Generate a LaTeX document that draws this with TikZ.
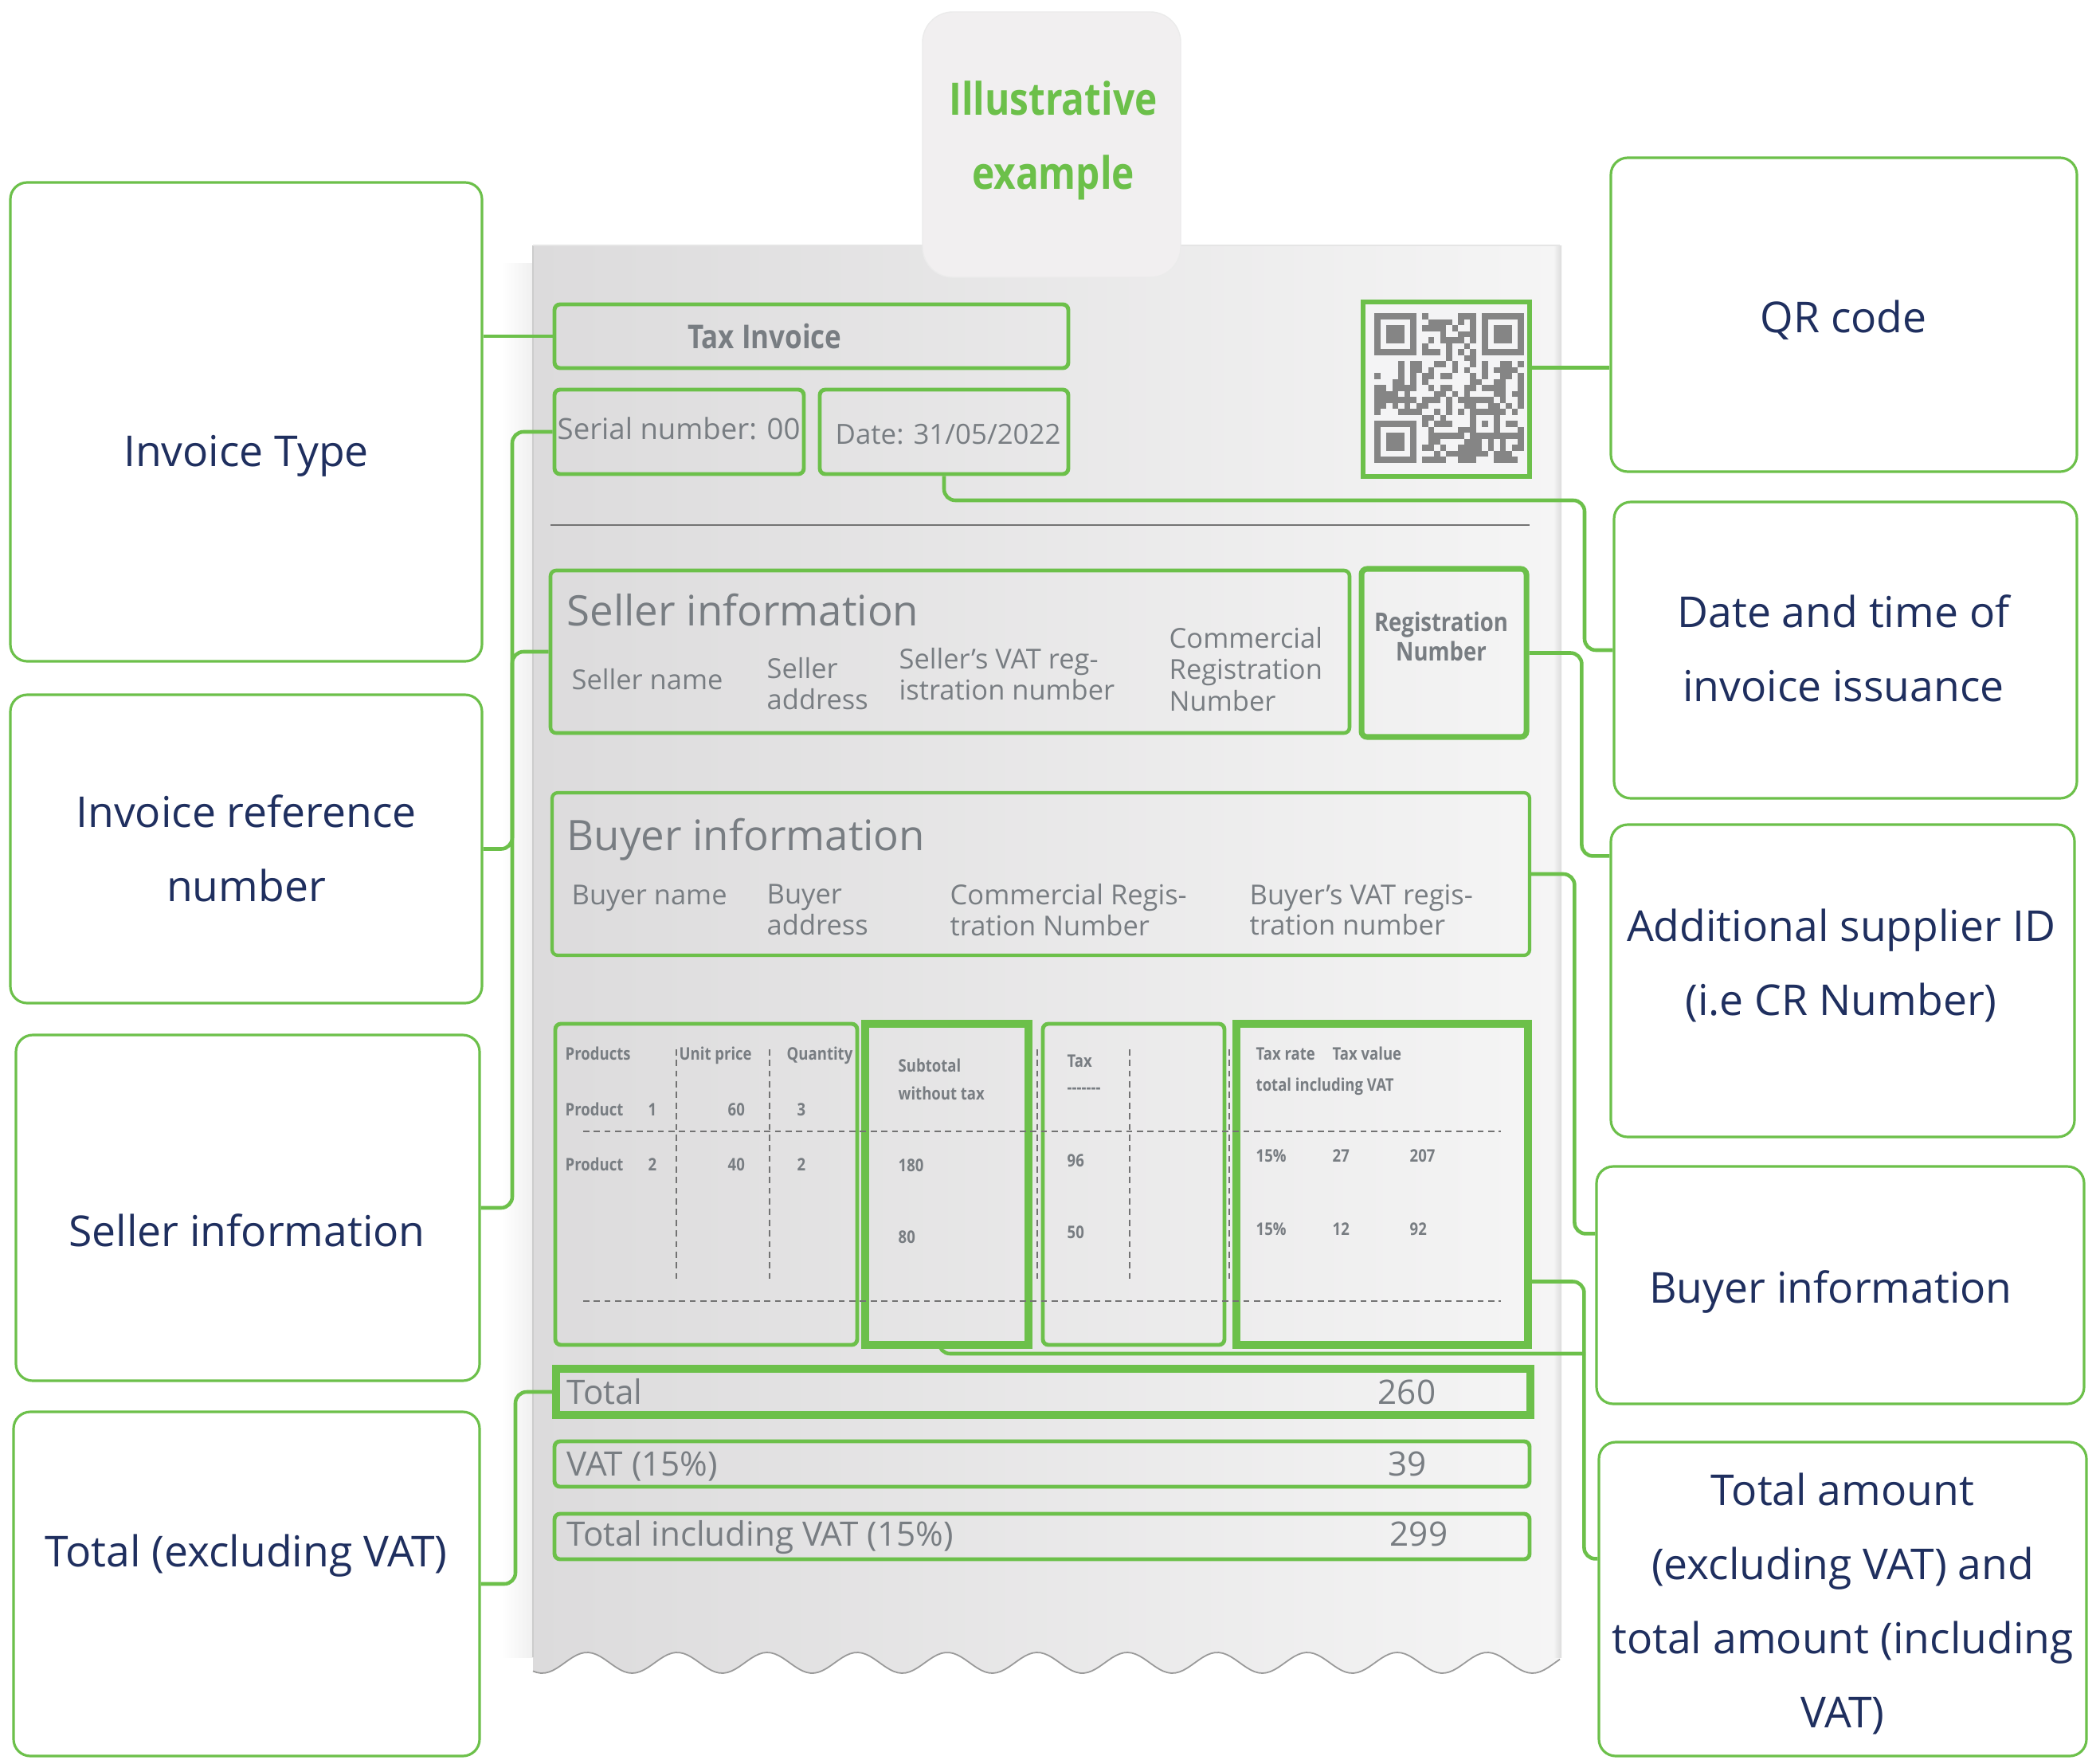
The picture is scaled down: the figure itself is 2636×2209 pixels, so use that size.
\documentclass[tikz,border=0pt]{standalone}
\usepackage{fontspec}
\setmainfont{Open Sans}
\newfontfamily\labf{Open Sans}
\newfontfamily\rcf{Open Sans}
\newfontfamily\cdf[FakeStretch=0.85]{Open Sans}
\usetikzlibrary{fit,calc}
\definecolor{gr}{HTML}{6CC04A}
\definecolor{navy}{HTML}{1F2F5F}
\definecolor{txt}{HTML}{787D82}
\definecolor{tabc}{HTML}{F1EFF0}
\definecolor{qrc}{HTML}{858585}
\definecolor{qrbg}{HTML}{F4F4F5}
\definecolor{paperL}{HTML}{DCDBDC}
\definecolor{paperR}{HTML}{F5F5F5}
\tikzset{
  lbox/.style={draw=gr, line width=0.9pt, rounded corners=6pt, inner sep=0pt},
  ltext/.style={font={\labf\fontsize{15.2}{26.5}\selectfont}, text=navy, align=center, inner sep=0pt},
  conn/.style={draw=gr, line width=1.3pt, rounded corners=4pt},
  rbox/.style={draw=gr, line width=1.4pt, rounded corners=2pt, inner sep=0pt},
  rthick/.style={draw=gr, line width=2.6pt, inner sep=0pt},
  rt/.style={text=txt, inner sep=0pt, anchor=base west},
  hdr/.style={rt, font={\rcf\fontsize{15}{18}\selectfont}},
  fld/.style={text=txt, inner sep=0pt, anchor=west, align=left, font={\rcf\fontsize{9.8}{10.9}\selectfont}},
  tt/.style={rt, font={\cdf\bfseries\fontsize{6.2}{10}\selectfont}},
  tot/.style={rt, font={\rcf\fontsize{12}{14}\selectfont}},
  dsh/.style={draw=black!55, line width=0.4pt, dash pattern=on 2.2pt off 1.6pt},
}
\begin{document}
\begin{tikzpicture}[x=0.01cm, y=-0.01cm]
\useasboundingbox (0,0) rectangle (2636,2209);
\fill[white] (0,0) rectangle (2636,2209);

% ---------- receipt paper ----------
\shade[left color=white, right color=black!6] (630,330) rectangle (669,2080);
\shade[left color=paperL, right color=paperR]
  (669,308) -- (1958,308) -- (1958,2082)
  -- plot[domain=1958:669, samples=260] (\x, {2087-13*cos(3.1858*(\x-737))}) -- cycle;
\shade[left color=paperR, right color=black!14] (1950,308) rectangle (1960,2080);
\draw[black!40, line width=0.5pt] plot[domain=1958:669, samples=260] (\x, {2087-13*cos(3.1858*(\x-737))});
\draw[black!20, line width=0.8pt] (669,308) -- (669,2080);
\draw[black!10, line width=0.6pt] (669,308) -- (1958,308);

% ---------- illustrative tab ----------
\node[fit={(1158,15)(1482,348)}, inner sep=0pt, fill=tabc, draw=black!8, rounded corners=10.8pt] (tab) {};
\node[text=gr, align=center, inner sep=0pt, font={\cdf\bfseries\fontsize{16}{26.5}\selectfont}] (tabtext) at (1322,176) {Illustrative\\example};

% ---------- receipt header ----------
\node[rbox, fit={(696,382)(1341,462)}] (taxinv) {};
\node[rt, anchor=base, font={\cdf\bfseries\fontsize{11.7}{14}\selectfont}] (taxinvt) at (960,437) {Tax Invoice};
\node[rbox, fit={(696,489)(1009,595)}] (serial) {};
\node[rt, font={\rcf\fontsize{10.4}{12}\selectfont}] (serialt) at (699,551) {Serial number: 00};
\node[rbox, fit={(1029,489)(1341,595)}] (date) {};
\node[rt, font={\rcf\fontsize{9.9}{12}\selectfont}] (datet) at (1048,557) {Date: 31/05/2022};

% QR code
\node[draw=gr, line width=1.8pt, fill=qrbg, inner sep=0pt, fit={(1711,379)(1920,598)}] (qr) {};
\pgfmathsetseed{7}
\foreach \i in {0,...,24}{
  \foreach \j in {0,...,24}{
    \pgfmathtruncatemacro\fnd{((\i<8)&&(\j<8))||((\i>16)&&(\j<8))||((\i<8)&&(\j>16))}
    \pgfmathtruncatemacro\rr{rnd<0.52}
    \ifnum\fnd=0 \ifnum\rr=1 \fill[qrc] ({1725+7.5*\i},{393+7.5*\j}) rectangle ++(7.6,7.6); \fi\fi
  }}
\foreach \a/\b in {0/0, 18/0, 0/18}{
  \fill[qrc] ({1725+7.5*\a},{393+7.5*\b}) rectangle ++(52.5,52.5);
  \fill[qrbg] ({1732.5+7.5*\a},{400.5+7.5*\b}) rectangle ++(37.5,37.5);
  \fill[qrc] ({1740+7.5*\a},{408+7.5*\b}) rectangle ++(22.5,22.5);
}
\fill[qrc] (1845,513) rectangle ++(37.5,37.5);
\fill[qrbg] (1852.5,520.5) rectangle ++(22.5,22.5);
\fill[qrc] (1860,528) rectangle ++(7.5,7.5);

\draw[black!55, line width=0.5pt] (691,659) -- (1920,659);

% ---------- seller ----------
\node[rbox, line width=1.3pt, fit={(691,716)(1694,920)}] (seller) {};
\node[hdr] (sellerh) at (711,785) {Seller information};
\node[fld, anchor=base west] (sf1) at (717,865) {Seller name};
\node[fld] (sf2) at (962,858) {Seller\\address};
\node[fld] (sf3) at (1128,846) {Seller’s VAT reg-\\istration number};
\node[fld, font={\rcf\fontsize{9.8}{11.2}\selectfont}] (sf4) at (1467,840) {Commercial\\Registration\\Number};
\node[rbox, line width=2pt, fit={(1709,714)(1916,925)}] (reg) {};
\node[text=txt, inner sep=0pt, align=center, font={\cdf\bfseries\fontsize{9.2}{10.5}\selectfont}] (regt) at (1809,799) {Registration\\Number};

% ---------- buyer ----------
\node[rbox, line width=1.2pt, fit={(693,995)(1920,1199)}] (buyer) {};
\node[hdr] (buyerh) at (711,1067) {Buyer information};
\node[fld, anchor=base west] (bf1) at (717,1135) {Buyer name};
\node[fld] (bf2) at (962,1142) {Buyer\\address};
\node[fld] (bf3) at (1192,1142) {Commercial Regis-\\tration Number};
\node[fld] (bf4) at (1568,1142) {Buyer’s VAT regis-\\tration number};

% ---------- table ----------
\node[rbox, fit={(697,1285)(1076,1688)}] (tb1) {};
\node[rthick, fit={(1086,1285)(1291,1688)}] (tb2) {};
\node[rbox, fit={(1309,1285)(1537,1688)}] (tb3) {};
\node[rthick, fit={(1552,1285)(1918,1688)}] (tb4) {};
\draw[dsh] (732,1420) -- (1884,1420);
\draw[dsh] (732,1633) -- (1884,1633);
\foreach \xx in {849,966,1302,1418,1543}{\draw[dsh] (\xx,1317) -- (\xx,1610);}
\node[tt] (c1) at (709,1330) {Products};
\node[tt] (c2) at (852,1330) {Unit price};
\node[tt] (c3) at (987,1330) {Quantity};
\node[tt] (p1a) at (709,1400) {Product};
\node[tt] (p1b) at (813,1400) {1};
\node[tt] (p1c) at (913,1400) {60};
\node[tt] (p1d) at (1000,1400) {3};
\node[tt] (p2a) at (709,1469) {Product};
\node[tt] (p2b) at (813,1469) {2};
\node[tt] (p2c) at (913,1469) {40};
\node[tt] (p2d) at (1000,1469) {2};
\node[tt] (s1) at (1127,1345) {Subtotal};
\node[tt] (s2) at (1127,1380) {without tax};
\node[tt] (s3) at (1127,1470) {180};
\node[tt] (s4) at (1127,1560) {80};
\node[tt] (x1) at (1339,1339) {Tax};
\node[tt] (x2) at (1339,1372) {-------};
\node[tt] (x3) at (1339,1464) {96};
\node[tt] (x4) at (1339,1554) {50};
\node[tt] (r1) at (1576,1330) {Tax rate};
\node[tt] (r2) at (1672,1330) {Tax value};
\node[tt] (r3) at (1576,1369) {total including VAT};
\node[tt] (r4) at (1576,1458) {15\%};
\node[tt] (r5) at (1672,1458) {27};
\node[tt] (r6) at (1769,1458) {207};
\node[tt] (r7) at (1576,1550) {15\%};
\node[tt] (r8) at (1672,1550) {12};
\node[tt] (r9) at (1769,1550) {92};

% ---------- totals ----------
\node[rthick, fit={(698,1718)(1921,1776)}] (tot) {};
\node[tot] (tott) at (711,1762) {Total};
\node[tot] (totv) at (1729,1762) {260};
\node[rbox, fit={(696,1809)(1920,1866)}] (vat) {};
\node[tot] (vatt) at (711,1852) {VAT (15\%)};
\node[tot] (vatv) at (1742,1852) {39};
\node[rbox, fit={(696,1900)(1920,1957)}] (tinc) {};
\node[tot] (tinct) at (711,1940) {Total including VAT (15\%)};
\node[tot] (tincv) at (1744,1940) {299};

% ---------- label boxes ----------
\node[lbox, fit={(13,229)(605,830)}] (lt1) {};
\node[lbox, fit={(13,872)(605,1259)}] (lt2) {};
\node[lbox, fit={(20,1299)(602,1733)}] (lt3) {};
\node[lbox, fit={(17,1772)(602,2204)}] (lt4) {};
\node[lbox, fit={(2022,198)(2607,592)}] (rt1) {};
\node[lbox, fit={(2026,630)(2607,1002)}] (rt2) {};
\node[lbox, fit={(2022,1035)(2604,1427)}] (rt3) {};
\node[lbox, fit={(2004,1464)(2616,1762)}] (rt4) {};
\node[lbox, fit={(2007,1810)(2619,2204)}] (rt5) {};

\node[ltext, anchor=base] (lt1t) at (309,585) {Invoice Type};
\node[ltext] (lt2t) at (309,1065) {Invoice reference\\number};
\node[ltext, anchor=base] (lt3t) at (310,1564) {Seller information};
\node[ltext, anchor=base] (lt4t) at (309,1966) {Total (excluding VAT)};
\node[ltext, anchor=base] (rt1t) at (2314,417) {QR code};
\node[ltext] (rt2t) at (2314,814) {Date and time of\\invoice issuance};
\node[ltext] (rt3t) at (2311,1212) {Additional supplier ID\\(i.e CR Number)};
\node[ltext, anchor=base] (rt4t) at (2298,1635) {Buyer information};
\node[ltext] (rt5t) at (2313,2013) {Total amount\\(excluding VAT) and\\total amount (including\\VAT)};

% ---------- connectors ----------
\coordinate (lbus) at (643,0);
\coordinate (lbusb) at (647,0);
\draw[conn] (lt1.east |- taxinv.west) -- (taxinv.west);
\draw[conn] (lt2.east) -| (lbus |- serial.west) -- (serial.west);
\draw[conn] (lt3.east) -| (lbus |- seller.west) -- (seller.west);
\draw[conn] (lt4.east) -| (lbusb |- tot.west) -- (tot.west);

\draw[conn] ($(qr.east)+(0,-27)$) -- ($(qr.east -| rt1.west)+(0,-27)$);
\coordinate (rbusa) at (1989,628);
\draw[conn] (date.south) |- (rbusa) |- (rt2.west);
\draw[conn] (reg.east) -| ($(rt3.north west)+(-35,41)$) -- ($(rt3.north west)+(0,41)$);
\draw[conn] (buyer.east) -| ($(rt4.north west)+(-26,86)$) -- ($(rt4.north west)+(0,86)$);
\draw[conn] ($(tb4.east)+(0,122)$) -| ($(rt5.north west)+(-17,148)$) -- ($(rt5.north west)+(0,148)$);
\coordinate (jn) at (1990,1699);
\draw[conn] ($(tb2.south)+(-10,0)$) |- (jn);
\end{tikzpicture}
\end{document}
